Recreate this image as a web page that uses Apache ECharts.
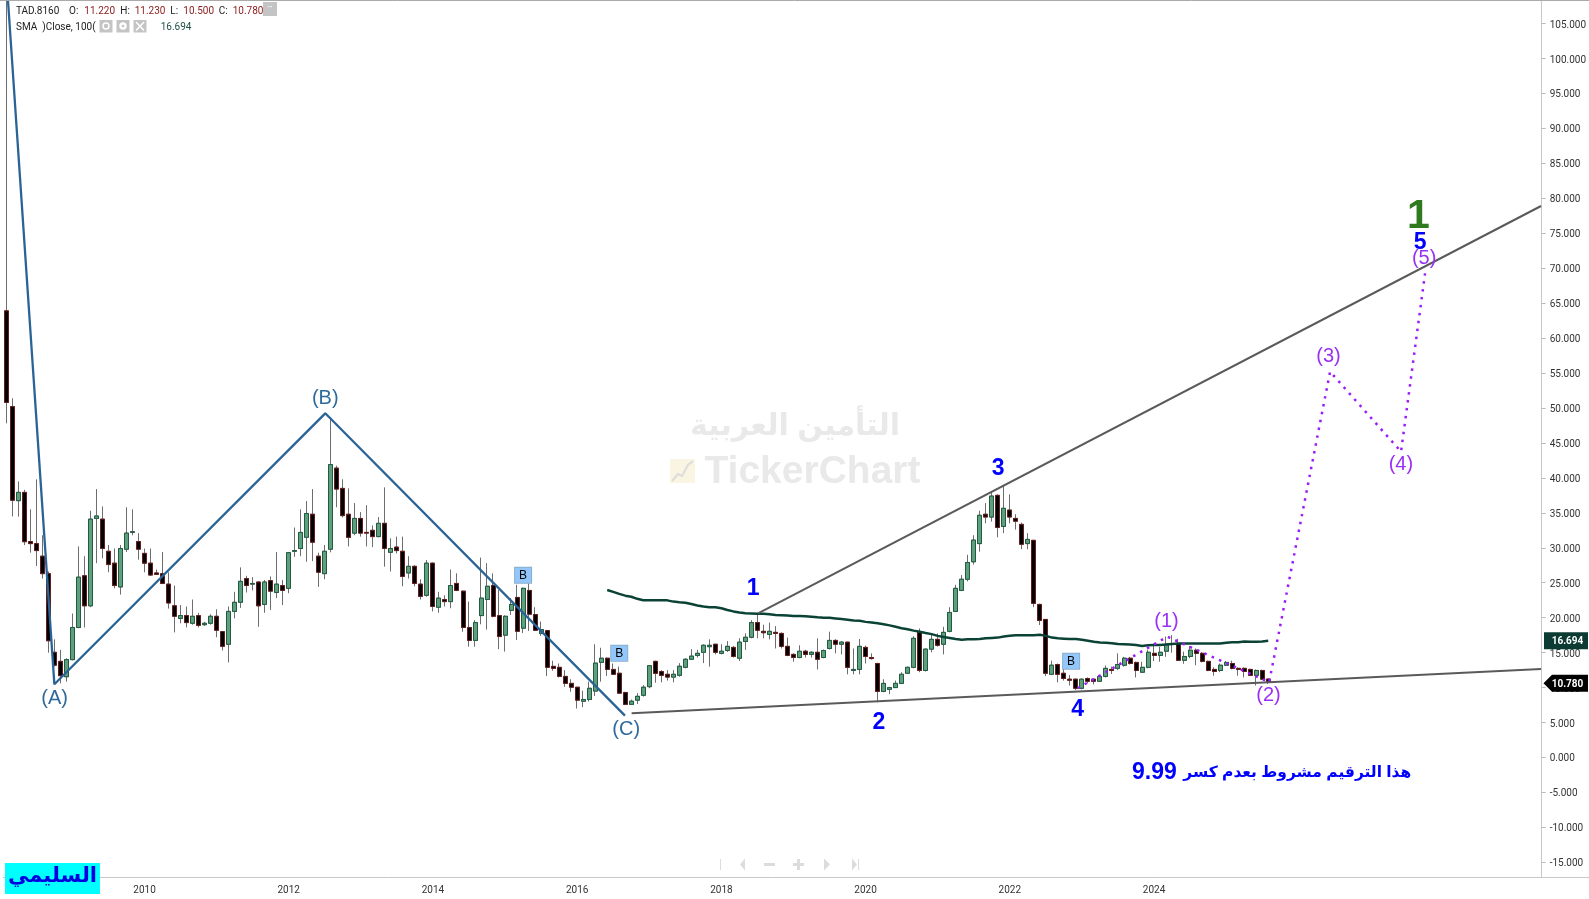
<!DOCTYPE html>
<html>
<head>
<meta charset="utf-8">
<title>TAD.8160</title>
<style>
html, body { margin: 0; padding: 0; background: #fff; }
#chart { width: 1589px; height: 899px; }
</style>
<script src="https://cdn.jsdelivr.net/npm/echarts@6/dist/echarts.min.js"></script>
</head>
<body>
<div id="chart"></div>
<script>
// monthly bars, first one is 2008-02
var opens = [
  63.9,50.2,36.74,37.93,30.9,30.6,28.8,26.3,15.05,13.75,
  11.55,14.0,18.6,26.0,21.7,34.2,34.1,29.5,27.8,24.4,
  29.8,32.2,30.9,29.2,27.8,26.4,26.3,24.8,21.7,19.9,
  20.3,19.2,20.3,19.0,19.2,20.2,18.0,16.2,20.9,22.2,
  25.6,24.8,25.1,21.9,25.3,23.6,24.6,24.2,29.5,29.9,
  31.5,34.8,28.8,26.3,29.8,41.4,38.5,34.8,32.1,34.2,
  32.2,32.5,31.6,33.5,29.35,30.1,29.5,26.4,27.35,24.8,
  23.2,27.8,21.5,22.6,22.3,24.9,23.8,18.6,16.75,20.3,
  22.6,24.6,20.3,17.5,21.05,22.9,18.5,23.9,20.45,17.75,
  18.15,13.04,12.9,11.6,10.6,10.05,8.05,8.3,9.5,13.6,
  14.2,12.6,12.05,9.3,7.6,8.2,8.9,10.13,13.75,12.3,
  11.9,11.5,11.75,12.9,14.05,14.6,15.05,15.85,16.2,14.9,
  15.3,15.75,14.2,16.6,17.2,19.3,18.05,17.6,17.9,17.75,
  15.9,14.75,14.3,15.2,14.75,15.05,14.3,15.6,16.75,16.2,
  16.5,12.45,12.6,15.75,14.3,13.45,9.45,9.75,10.0,10.6,
  12.05,12.9,17.9,12.45,15.5,16.9,16.2,18.05,20.9,23.9,
  25.5,28.0,30.6,34.8,34.4,37.5,33.05,35.4,34.2,33.35,
  30.6,31.07,21.9,19.75,11.9,13.3,12.05,11.2,11.2,9.9,
  11.3,11.2,10.9,11.6,12.6,12.75,13.2,14.2,13.6,12.2,
  12.9,14.9,14.6,15.2,16.2,16.3,13.9,14.45,15.35,14.9,
  13.75,12.6,12.45,13.2,13.45,12.75,12.75,12.6,11.75,12.45,
  11.22
]
var highs = [
  110,51.4,39.5,38.3,35.5,39.8,31.8,26.6,16.9,15.4,
  14.2,20.6,30.2,28.8,35.3,38.4,35.9,30.4,29.9,30.4,
  35.8,35.5,32.1,29.9,29.9,26.9,29.4,26.5,24.6,21.8,
  21.6,22.6,20.7,19.4,20.5,21.2,18.1,21.6,23.7,27.2,
  26.0,25.8,25.2,25.4,25.9,29.4,25.4,29.4,32.9,35.5,
  36.7,38.4,29.3,30.4,48.7,41.75,39.8,38.5,36.4,35.1,
  36.1,33.2,34.4,38.65,31.35,31.6,31.6,28.8,27.5,25.5,
  28.25,27.9,23.7,23.2,26.9,26.35,23.9,22.3,19.65,28.6,
  27.8,26.35,23.95,20.35,22.8,24.7,24.3,24.9,21.5,19.45,
  18.25,13.85,13.45,12.5,11.2,10.1,9.55,10.85,16.2,15.7,
  14.3,13.45,13.0,9.4,8.3,9.2,10.35,13.2,13.85,12.5,
  12.5,12.5,13.5,14.2,15.5,15.4,16.2,16.9,16.25,16.2,
  16.65,15.95,17.05,17.75,19.65,20.6,19.0,19.3,18.8,17.9,
  17.15,14.9,16.05,15.4,15.2,17.05,15.45,18.0,16.9,16.65,
  16.55,15.6,16.95,16.0,14.9,13.55,11.2,10.1,11.0,12.2,
  13.0,17.35,18.45,15.6,17.75,17.75,18.7,21.5,24.7,26.1,
  29.0,31.8,35.3,36.4,38.0,37.65,39.0,37.65,34.8,33.6,
  32.1,31.1,22.0,19.8,13.85,13.45,13.2,11.8,11.3,11.3,
  11.45,11.3,11.75,13.15,13.0,14.9,14.4,14.4,13.7,13.7,
  15.4,16.1,15.85,17.3,17.5,17.0,15.15,15.95,15.6,15.1,
  13.85,12.9,13.45,13.8,13.85,12.9,12.9,12.7,12.6,12.55,
  11.23
]
var lows = [
  47.8,34.5,34.45,30.4,29.3,27.4,25.6,15.0,13.0,10.6,
  10.85,13.9,18.5,18.6,21.5,27.8,28.5,26.5,24.2,23.3,
  29.4,31.8,28.3,26.5,26.0,26.1,24.8,21.3,17.9,19.2,
  18.6,19.0,18.6,18.8,19.0,17.2,15.3,13.6,19.9,21.4,
  23.6,23.9,18.7,20.7,21.1,22.8,21.8,23.5,28.7,28.8,
  28.0,28.1,24.4,25.5,29.35,35.8,34.35,30.2,31.8,31.6,
  30.2,30.1,31.5,27.3,26.6,29.2,24.5,25.6,24.5,22.6,
  23.0,20.9,20.7,21.6,21.35,23.8,18.0,15.85,15.85,19.05,
  18.3,20.05,15.5,15.15,20.4,16.8,17.8,18.1,18.1,17.4,
  11.65,12.4,11.45,10.1,9.4,7.0,7.2,8.0,8.8,10.85,
  11.65,11.8,9.1,7.5,7.5,7.65,8.7,9.9,10.7,10.75,
  11.0,10.75,11.55,12.75,13.95,14.3,13.5,13.0,14.75,14.75,
  15.1,14.3,13.8,15.4,17.05,17.05,17.05,16.9,15.6,15.6,
  14.5,13.7,14.2,14.3,14.3,12.6,14.2,15.45,14.9,14.75,
  11.9,11.9,11.9,13.45,14.0,7.9,9.35,9.05,9.95,10.5,
  11.95,12.75,12.2,12.3,15.05,15.85,14.75,17.9,20.8,23.8,
  25.2,27.6,29.45,33.5,33.75,31.5,32.1,33.5,32.6,29.8,
  29.8,21.5,18.95,11.65,11.8,10.75,11.0,10.3,9.65,9.75,
  10.6,10.45,10.8,11.45,11.95,12.5,13.0,13.3,11.45,12.1,
  12.75,13.8,13.7,14.4,15.0,13.8,13.4,14.2,13.2,13.6,
  12.35,11.7,12.2,13.1,12.6,11.7,11.45,11.65,10.3,11.1,
  10.5
]
var closes = [
  50.8,36.8,37.93,30.87,30.6,29.6,26.3,16.7,13.2,11.7,
  14.0,18.6,25.8,21.7,34.1,34.55,29.9,27.6,24.6,29.9,
  32.1,32.3,29.8,27.8,26.1,26.2,24.9,22.1,20.2,20.3,
  19.3,20.2,18.9,19.2,20.2,18.2,15.9,20.9,22.2,25.2,
  24.6,24.9,21.7,25.1,23.8,24.8,23.9,29.3,29.6,32.2,
  34.9,30.8,26.5,29.5,41.9,38.4,34.6,31.5,34.2,32.1,
  32.1,31.6,33.5,29.9,29.9,29.6,25.9,27.35,24.9,23.05,
  27.8,21.6,22.8,22.3,24.6,23.9,18.6,16.75,19.3,22.8,
  24.5,20.2,17.3,20.2,21.9,18.05,24.2,20.5,18.2,18.3,
  12.9,12.75,11.6,10.6,10.05,8.2,8.3,9.9,13.5,14.2,
  12.6,11.9,9.2,7.6,8.05,8.75,10.05,13.13,12.04,11.75,
  11.5,11.9,13.05,14.05,14.5,14.9,16.05,16.05,15.05,15.2,
  15.9,14.45,16.5,17.2,19.3,18.2,17.85,18.05,17.75,15.9,
  14.6,14.3,15.2,14.75,15.05,14.05,15.3,16.75,16.2,16.5,
  12.9,12.6,15.9,14.45,14.15,9.45,10.6,10.0,10.6,11.9,
  12.9,17.05,12.45,15.5,16.9,16.05,17.9,20.75,24.2,25.5,
  27.9,31.1,34.65,34.4,37.4,32.9,35.65,34.4,33.8,30.5,
  31.2,22.05,19.6,12.05,13.2,11.9,11.3,11.05,9.9,11.2,
  10.9,10.9,11.6,12.75,12.45,13.3,14.2,13.45,12.45,12.9,
  15.05,14.6,15.05,16.2,16.3,13.9,14.45,15.35,14.9,13.75,
  12.45,12.3,13.2,13.6,12.75,12.6,12.3,11.75,12.45,11.2,
  10.78
]
// SMA 100 starts at bar 100
var smaStart = 100
var smaValues = [
  23.96,23.7,23.4,23.15,23.0,22.7,22.5,22.48,22.48,22.48,
  22.48,22.3,22.2,22.15,21.95,21.75,21.6,21.5,21.5,21.35,
  21.1,20.9,20.75,20.65,20.6,20.55,20.55,20.5,20.4,20.35,
  20.3,20.25,20.25,20.2,20.15,20.05,20.0,20.0,19.9,19.8,
  19.7,19.6,19.55,19.4,19.3,19.2,19.05,18.9,18.7,18.5,
  18.35,18.15,18.0,17.8,17.65,17.4,17.25,17.1,16.95,16.85,
  16.9,16.9,16.95,17.05,17.1,17.15,17.3,17.4,17.5,17.5,
  17.5,17.5,17.55,17.4,17.15,17.05,17.0,16.95,16.95,16.85,
  16.7,16.55,16.45,16.4,16.35,16.25,16.2,16.15,16.1,15.95,
  16.05,16.1,16.1,16.15,16.25,16.3,16.3,16.3,16.3,16.3,
  16.3,16.3,16.3,16.4,16.5,16.5,16.6,16.55,16.55,16.6,
  16.694
]
var yTicks = [-15,-10,-5,0,5,10,15,20,25,30,35,40,45,50,55,60,65,70,75,80,85,90,95,100,105]
var lastClose = 10.78
var smaLast = 16.694
var lastLabelYear = 2024

// drawings, as [bar number, price]
var abcLine = [[0.28, 108.3], [8, 10.47], [53.08, 49.24], [102.95, 5.98]]
var upperTrend = [[125.1, 20.63], [255.4, 78.9]]
var lowerTrend = [[104.06, 6.32], [255.4, 12.66]]
var projection = [[178.3, 9.9], [193.2, 17.28], [210.15, 10.76], [220.3, 55.2], [232.1, 43.75], [236.1, 69.27]]

var abcNames = ['(A)', '(B)', '(C)']
var abcSpots = [[8.05, 8.5], [53.08, 51.43], [103.16, 3.98]]
var purpleNames = ['(1)', '(2)', '(3)', '(4)', '(5)']
var purpleSpots = [[193.08, 19.5], [210.05, 8.8], [220.03, 57.33], [232.07, 41.85], [235.94, 71.35]]
var blueNames = ['1', '2', '3', '4', '5']
var blueSpots = [[124.29, 24.14], [145.2, 4.97], [165.04, 41.27], [178.27, 6.83], [235.3, 73.61]]
var greenNames = ['1']
var greenSpots = [[235, 77.3]]
var badgeNames = ['B', 'B', 'B']
var badgeSpots = [[86, 26.07], [102, 14.9], [177.2, 13.76]]
var noteText = ['هذا الترقيم مشروط بعدم كسر']
var noteSpot = [[214.84, -2.17]]
var noteNumber = ['9.99']
var noteNumberSpot = [[191.06, -2.17]]

var UI_FONT = 'Roboto, sans-serif'
var TEXT_FONT = '"Liberation Sans", "DejaVu Sans", sans-serif'

var months = []
for (var m = 0; m < 256; m++) {
  var total = 2008 * 12 + 1 + m
  var mm = total % 12 + 1
  months.push(Math.floor(total / 12) + '-' + (mm < 10 ? '0' + mm : mm))
}

var wickData = opens.map(function(o, i) {
  return [o, closes[i], lows[i], highs[i]]
})
var bodyData = opens.map(function(o, i) {
  return [o, closes[i], Math.min(o, closes[i]), Math.max(o, closes[i])]
})
var smaData = months.map(function(m, i) {
  var v = smaValues[i - smaStart]
  return v === undefined ? null : v
})

function evenYearStart(i, name) {
  var year = Number(name.slice(0, 4))
  return name.slice(5) === '01' && year % 2 === 0 && year <= lastLabelYear
}

function drawing(points, color, width, type) {
  return {
    type: 'line',
    xAxisIndex: 1,
    yAxisIndex: 0,
    data: points,
    symbol: 'none',
    silent: true,
    z: 5,
    lineStyle: { color: color, width: width, type: type || 'solid' }
  }
}

function labels(names, spots, label) {
  return {
    type: 'scatter',
    xAxisIndex: 1,
    yAxisIndex: 0,
    symbolSize: 0,
    silent: true,
    z: 6,
    itemStyle: { opacity: 1 },
    data: spots.map(function(s, i) {
      return { value: s, name: names[i] }
    }),
    label: Object.assign({ show: true, position: 'inside', formatter: '{b}' }, label)
  }
}

var option = {
  animation: false,
  backgroundColor: '#fff',
  grid: { left: 3.3, right: 47.1, top: 1, bottom: 22 },
  xAxis: [
    {
      type: 'category',
      data: months,
      boundaryGap: true,
      axisLine: { onZero: false, lineStyle: { color: '#c8c8c8', width: 1 } },
      axisTick: { interval: evenYearStart, alignWithLabel: true, length: 3, lineStyle: { color: '#bbb' } },
      axisLabel: {
        interval: evenYearStart,
        color: '#333',
        fontFamily: UI_FONT,
        fontSize: 10,
        margin: 8,
        formatter: function(v) { return v.slice(0, 4) }
      },
      splitLine: { show: false }
    },
    { type: 'value', min: -0.5, max: 255.5, show: false, splitLine: { show: false } }
  ],
  yAxis: [
    {
      type: 'value',
      position: 'right',
      min: -17.1,
      max: 108.23,
      axisLine: { show: true, onZero: false, lineStyle: { color: '#c8c8c8', width: 1 } },
      axisTick: { show: true, length: 4, customValues: yTicks, lineStyle: { color: '#bbb' } },
      axisLabel: {
        margin: 8,
        customValues: yTicks,
        formatter: function(v) { return '{t|' + v.toFixed(3) + '}' },
        rich: {
          t: { color: '#333', fontFamily: UI_FONT, fontSize: 10, padding: [3, 0, 0, 0] }
        }
      },
      splitLine: { show: false }
    }
  ],
  series: [
    {
      type: 'candlestick',
      name: 'wicks',
      data: wickData,
      barWidth: 4.5,
      silent: true,
      itemStyle: { color: '#6e6e6e', color0: '#6e6e6e', borderColor: '#6e6e6e', borderColor0: '#6e6e6e', borderWidth: 1 }
    },
    {
      type: 'candlestick',
      name: 'TAD.8160',
      data: bodyData,
      barWidth: 4.5,
      silent: true,
      itemStyle: { color: '#5f9f7c', color0: '#000', borderColor: '#1f5c43', borderColor0: '#6a1c1c', borderWidth: 1 }
    },
    {
      type: 'line',
      name: 'SMA',
      data: smaData,
      symbol: 'none',
      silent: true,
      z: 4,
      lineStyle: { color: '#0b4236', width: 2.5 }
    },
    drawing(abcLine, '#2a6496', 2.3),
    drawing(upperTrend, '#5a5a5a', 2),
    drawing(lowerTrend, '#5a5a5a', 2),
    drawing(projection, '#9b1cf8', 2.5, [2.5, 5.5]),
    labels(abcNames, abcSpots, { color: '#2f6a9c', fontSize: 20, fontFamily: TEXT_FONT }),
    labels(purpleNames, purpleSpots, { color: '#9b30f5', fontSize: 20, fontFamily: TEXT_FONT }),
    labels(blueNames, blueSpots, { color: '#0000ff', fontSize: 23, fontWeight: 'bold', fontFamily: TEXT_FONT }),
    labels(greenNames, greenSpots, { color: '#2f7a1f', fontSize: 41, fontWeight: 'bold', fontFamily: TEXT_FONT }),
    labels(badgeNames, badgeSpots, {
      color: '#000',
      fontSize: 12,
      fontFamily: TEXT_FONT,
      backgroundColor: '#93c7fb',
      borderColor: '#8aafcc',
      borderWidth: 1,
      padding: [2, 4, 1, 4]
    }),
    labels(noteText, noteSpot, { color: '#0000ff', fontSize: 15.5, fontWeight: 'bold', fontFamily: TEXT_FONT }),
    labels(noteNumber, noteNumberSpot, { color: '#0000ff', fontSize: 23, fontWeight: 'bold', fontFamily: TEXT_FONT })
  ]
}

var dom = document.getElementById('chart')
var chart = echarts.init(dom, null, { renderer: 'canvas' })
chart.setOption(option)

function txt(x, y, text, fill, opts) {
  return {
    type: 'text',
    x: x,
    y: y,
    z: (opts && opts.z) || 50,
    silent: true,
    style: Object.assign({
      text: text,
      fill: fill,
      font: '10px ' + UI_FONT,
      textVerticalAlign: 'middle'
    }, opts && opts.style)
  }
}
function box(x, y, w, h, fill, z) {
  return { type: 'rect', z: z || 50, silent: true, shape: { x: x, y: y, width: w, height: h }, style: { fill: fill } }
}
function poly(points, fill) {
  return { type: 'polygon', z: 50, silent: true, shape: { points: points }, style: { fill: fill } }
}
function seg(x1, y1, x2, y2, color, w, z) {
  return { type: 'line', z: z || 50, silent: true, shape: { x1: x1, y1: y1, x2: x2, y2: y2 }, style: { stroke: color, lineWidth: w || 1 } }
}

var RED = '#8b1a1a'
var NAV = '#dcdcdc'
var smaY = chart.convertToPixel({ yAxisIndex: 0 }, smaLast)
var lastY = chart.convertToPixel({ yAxisIndex: 0 }, lastClose) + 1

var elements = [
  seg(0, 0.5, 1589, 0.5, '#aaa'),
  seg(1542, 877.5, 1589, 877.5, '#c8c8c8'),

  // watermark
  txt(795, 427, 'التأمين العربية', '#e9e9e9', { z: 1, style: { font: 'bold 30px ' + TEXT_FONT, textAlign: 'center' } }),
  txt(812.5, 472, 'TickerChart', '#e9e9e9', { z: 1, style: { font: 'bold 39px ' + TEXT_FONT, textAlign: 'center' } }),
  box(670, 459, 25, 24, '#faf4e2', 1),
  { type: 'polyline', z: 1, silent: true, shape: { points: [[672, 481], [678, 474], [682, 476], [688, 465], [693, 461]] }, style: { stroke: '#dcdcdc', lineWidth: 2, fill: null } },

  // header
  txt(16, 11.5, 'TAD.8160', '#222'),
  txt(69, 11.5, 'O:', '#222'),
  txt(84.3, 11.5, '11.220', RED),
  txt(120.3, 11.5, 'H:', '#222'),
  txt(134.7, 11.5, '11.230', RED),
  txt(170.3, 11.5, 'L:', '#222'),
  txt(183.3, 11.5, '10.500', RED),
  txt(218.7, 11.5, 'C:', '#222'),
  txt(232.7, 11.5, '10.780', RED),
  box(263, 2, 14, 14, '#c4c4c4'),
  txt(270, 8, '•••', '#fff', { style: { font: '5px ' + UI_FONT, textAlign: 'center' } }),
  txt(16, 27.5, 'SMA  )Close, 100(', '#222'),
  box(99.5, 20, 13, 12.5, '#c4c4c4'),
  { type: 'circle', z: 51, silent: true, shape: { cx: 106, cy: 26, r: 3 }, style: { stroke: '#fff', lineWidth: 1.5, fill: null } },
  box(116.5, 20, 13, 12.5, '#c4c4c4'),
  { type: 'circle', z: 51, silent: true, shape: { cx: 123, cy: 26, r: 2.5 }, style: { stroke: '#fff', lineWidth: 2.5, fill: null } },
  box(133.5, 20, 13, 12.5, '#c4c4c4'),
  seg(136, 22, 144, 30.5, '#fff', 1.5, 51),
  seg(144, 22, 136, 30.5, '#fff', 1.5, 51),
  txt(160.7, 27.5, '16.694', '#1f4f44'),

  // price tags
  box(1544, smaY - 8.5, 44, 17, '#0b3b33', 60),
  txt(1551.7, smaY + 1, smaLast.toFixed(3), '#fff', { z: 61, style: { font: 'bold 10px ' + UI_FONT } }),
  poly([[1543.5, lastY], [1552, lastY - 8.5], [1588, lastY - 8.5], [1588, lastY + 8.5], [1552, lastY + 8.5]], '#000'),
  txt(1551.7, lastY + 1, lastClose.toFixed(3), '#fff', { z: 61, style: { font: 'bold 10px ' + UI_FONT } }),

  // nav buttons
  seg(720.5, 859, 720.5, 870, NAV),
  poly([[745, 858.5], [745, 870.5], [740, 864.5]], NAV),
  box(764, 863, 11, 3, NAV),
  box(793, 863, 11, 3, NAV),
  box(797, 859, 3, 11, NAV),
  poly([[824, 858.5], [824, 870.5], [830, 864.5]], NAV),
  poly([[852, 858.5], [852, 870.5], [857, 864.5]], NAV),
  seg(858.5, 859, 858.5, 870, NAV),

  // signature
  box(5, 863, 95, 31, '#00ffff', 55),
  txt(52.5, 876, 'السليمي', '#0000e0', { z: 56, style: { font: 'bold 21px ' + TEXT_FONT, textAlign: 'center' } })
]

chart.setOption({ graphic: { elements: elements } })

window.addEventListener('resize', function() {
  chart.resize()
})
</script>
</body>
</html>
